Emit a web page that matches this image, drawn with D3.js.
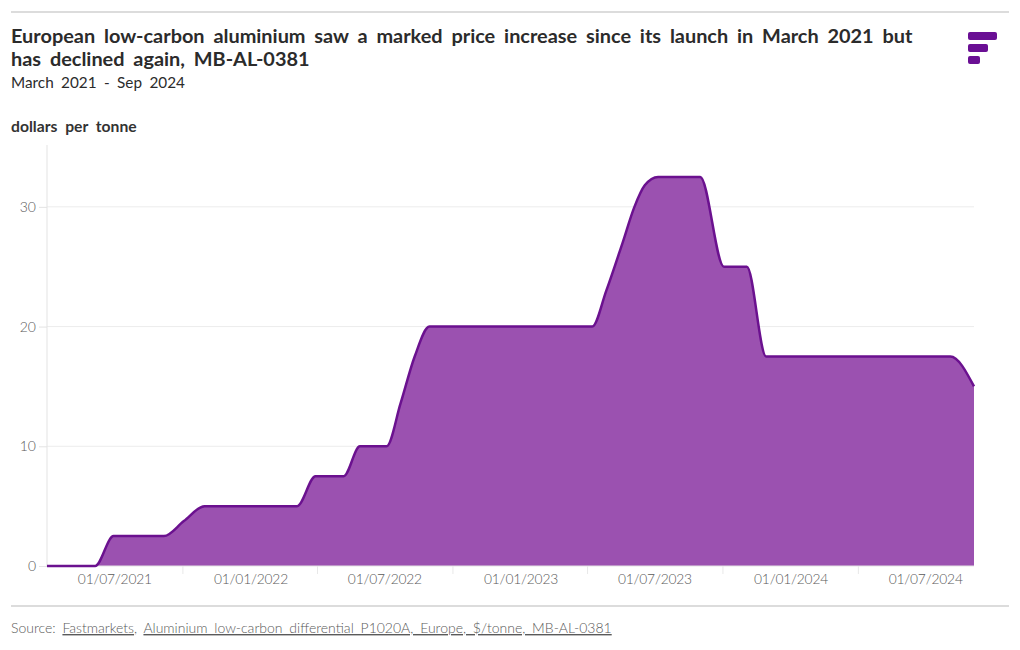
<!DOCTYPE html>
<html>
<head>
<meta charset="utf-8">
<script src="https://cdn.jsdelivr.net/npm/d3@7"></script>
<style>
  html, body { margin: 0; padding: 0; background: #fff; }
  svg { display: block; font-family: Lato, "Noto Sans", sans-serif; }
</style>
</head>
<body>
<svg id="chart" width="1020" height="650"></svg>
<script>
// ---- data ----
const dates = ["2021-04-01","2021-06-05","2021-06-30","2021-09-06","2021-10-03","2021-10-31",
  "2022-03-05","2022-03-30","2022-05-07","2022-05-29","2022-07-04","2022-07-23","2022-08-11","2022-08-31",
  "2023-04-08","2023-04-27","2023-05-19","2023-06-04","2023-06-18","2023-07-06",
  "2023-09-01","2023-10-03","2023-11-03","2023-11-29","2024-08-04","2024-09-05"];
const values = [0,0,2.5,2.5,3.75,5,
  5,7.5,7.5,10,10,13.6,17.5,20,
  20,23,27,30,31.8,32.5,
  32.5,25,25,17.5,17.5,15];
const yTicks = [0, 10, 20, 30];
const xLabelDates = ["2021-07-01","2022-01-01","2022-07-01","2023-01-01","2023-07-01","2024-01-01","2024-07-01"];
const xTickDates = ["2021-10-01","2022-04-01","2022-10-01","2023-04-01","2023-10-01","2024-04-01"];
const domainDates = ["2021-04-01","2024-09-05"];

const title1 = "European low-carbon aluminium saw a marked price increase since its launch in March 2021 but";
const title2 = "has declined again, MB-AL-0381";
const subtitle = "March 2021 - Sep 2024";
const yLabel = "dollars per tonne";

// ---- setup ----
const parse = d3.utcParse("%Y-%m-%d");
const data = dates.map((d, i) => ({ date: parse(d), value: values[i] }));
const svg = d3.select("#chart");

const pLeft = 47, pRight = 974, pTop = 147, pBottom = 566;
const x = d3.scaleUtc().domain(domainDates.map(parse)).range([pLeft, pRight]);
const y = d3.scaleLinear().domain([0, 35]).range([pBottom, pTop]);

const purpleFill = "#9b51b0", purpleLine = "#6b118f", grey = "#5a5a5a", rule = "#dcdcdc";

// rules
svg.append("line").attr("x1", 11).attr("x2", 1009).attr("y1", 12).attr("y2", 12)
  .attr("stroke", rule).attr("stroke-width", 2);
svg.append("line").attr("x1", 11).attr("x2", 1009).attr("y1", 606).attr("y2", 606)
  .attr("stroke", rule).attr("stroke-width", 2);

// titles
svg.append("text").attr("x", 11).attr("y", 43).attr("font-size", 19.9).attr("font-weight", 700)
  .attr("word-spacing", 4).attr("fill", "#2b2b2b").text(title1);
svg.append("text").attr("x", 11).attr("y", 66).attr("font-size", 19.9).attr("font-weight", 700)
  .attr("word-spacing", 4).attr("fill", "#2b2b2b").text(title2);
svg.append("text").attr("x", 11).attr("y", 88).attr("font-size", 15.3).attr("word-spacing", 3.5)
  .attr("fill", "#2b2b2b").text(subtitle);
svg.append("text").attr("x", 11).attr("y", 132).attr("font-size", 15.7).attr("font-weight", 700)
  .attr("word-spacing", 4).attr("fill", "#333").text(yLabel);

// logo
const logo = svg.append("g").attr("fill", "#6a0f94");
[[968, 32, 29, 8], [968, 44, 20, 8], [968, 56, 12, 8]].forEach(([lx, ly, w, h]) =>
  logo.append("rect").attr("x", lx).attr("y", ly).attr("width", w).attr("height", h).attr("rx", 2));

// gridlines
svg.append("g").selectAll("line").data(yTicks.filter(t => t > 0)).join("line")
  .attr("x1", pLeft).attr("x2", pRight).attr("y1", d => y(d)).attr("y2", d => y(d))
  .attr("stroke", "#ececec").attr("stroke-width", 1);

// y axis
const yAxis = svg.append("g").attr("transform", `translate(${pLeft},0)`)
  .call(d3.axisLeft(y).tickValues(yTicks).tickSize(8).tickPadding(3).tickFormat(d3.format("d")));
yAxis.select(".domain").attr("stroke", "#e3e3e3").attr("d", `M0,${pTop - 2}V${pBottom}`);
yAxis.selectAll(".tick line").attr("stroke", "#e3e3e3");
yAxis.selectAll(".tick text").attr("font-size", 14).attr("fill", grey).attr("font-family", "Lato, sans-serif").attr("font-weight", 300);

// area + line
const area = d3.area().x(d => x(d.date)).y0(y(0)).y1(d => y(d.value)).curve(d3.curveMonotoneX);
const line = d3.line().x(d => x(d.date)).y(d => y(d.value)).curve(d3.curveMonotoneX);
svg.append("path").datum(data).attr("d", area).attr("fill", purpleFill);

// x axis
const xAxisG = svg.append("g").attr("transform", `translate(0,${pBottom})`);
xAxisG.append("line").attr("x1", pLeft).attr("x2", pRight).attr("stroke", "#e3e3e3");
xAxisG.call(g => g.append("g")
  .call(d3.axisBottom(x).tickValues(xTickDates.map(parse)).tickSize(8).tickFormat(""))
  .call(a => a.select(".domain").remove())
  .call(a => a.selectAll(".tick line").attr("stroke", "#e8e8e8")));
xAxisG.call(g => g.append("g")
  .call(d3.axisBottom(x).tickValues(xLabelDates.map(parse)).tickSize(0).tickPadding(8)
    .tickFormat(d3.utcFormat("%d/%m/%Y")))
  .call(a => a.select(".domain").remove())
  .call(a => a.selectAll(".tick text").attr("font-size", 13.8).attr("letter-spacing", -0.2)
    .attr("fill", grey).attr("font-family", "Lato, sans-serif").attr("font-weight", 300)));

svg.append("path").datum(data).attr("d", line).attr("fill", "none")
  .attr("stroke", purpleLine).attr("stroke-width", 2.5).attr("stroke-linejoin", "round");

// source
const src = svg.append("text").attr("x", 11).attr("y", 633).attr("font-size", 14)
  .attr("word-spacing", 3).attr("fill", grey).attr("font-weight", 300);
src.append("tspan").text("Source: ");
src.append("tspan").attr("text-decoration", "underline").text("Fastmarkets");
src.append("tspan").text(", ");
src.append("tspan").attr("text-decoration", "underline")
  .text("Aluminium low-carbon differential P1020A, Europe, $/tonne, MB-AL-0381");
</script>
</body>
</html>
